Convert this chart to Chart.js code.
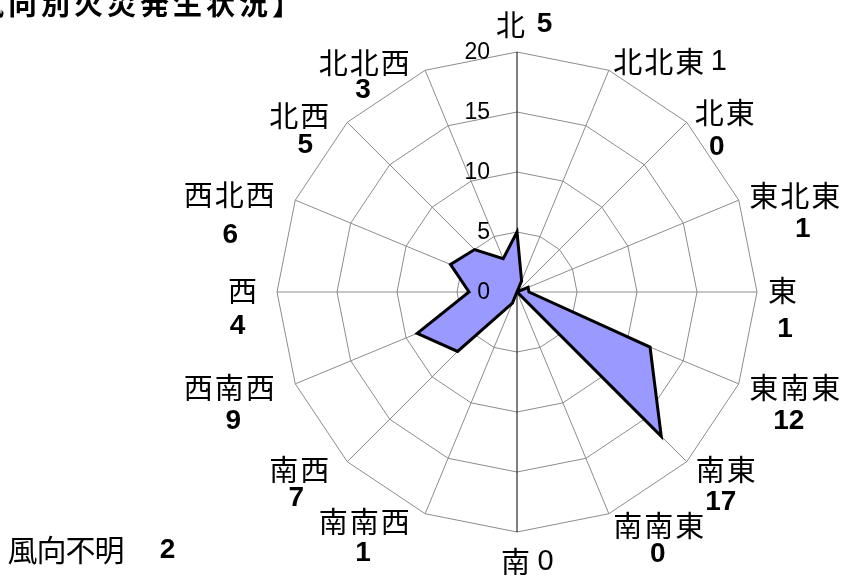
<!DOCTYPE html>
<html>
<head>
<meta charset="utf-8">
<script src="https://cdn.jsdelivr.net/npm/chart.js@4.4.1/dist/chart.umd.min.js"></script>
<style>
  html, body { margin: 0; padding: 0; background: #fff; }
  #wrap { position: relative; width: 844px; height: 581px; overflow: hidden; }
  canvas { display: block; }
</style>
</head>
<body>
<div id="wrap"><canvas id="c" width="844" height="581"></canvas></div>
<script>
// ---- data ----
const titleText = '【風向別火災発生状況】';
const directions = ['北','北北東','北東','東北東','東','東南東','南東','南南東','南','南南西','南西','西南西','西','西北西','北西','北北西'];
const fireCounts = [5, 1, 0, 1, 1, 12, 17, 0, 0, 1, 7, 9, 4, 6, 5, 3];
const tickValues = [0, 5, 10, 15, 20];
const unknownLabel = '風向不明';
const unknownCount = 2;

// ---- label layout (offsets from each outer vertex): [kanjiDx, kanjiDy, digitDx, digitDy, digitBold] ----
const labelLayout = [
  [-6.5, -27.5, 27.5, -27.5, true],
  [50, -8.3, 110, -8.3, false],
  [38, -9, 30, 24.5, true],
  [56, -4, 64, 29, true],
  [25.5, -1, 28, 37.5, true],
  [56, 4, 50, 37, true],
  [39, 8, 34, 41, true],
  [50, 12, 49, 41, true],
  [-1.5, 30, 28.5, 30, false],
  [-61, 8, -62, 40, true],
  [-48, 8, -51, 37, true],
  [-66, 4, -62, 37, true],
  [-34.5, -1, -39.5, 34.5, true],
  [-66, -5, -65, 35, true],
  [-48, -6, -42, 23, true],
  [-61, -7, -62, 20, true]
];

const CJK = '"Noto Sans CJK JP", "Noto Sans CJK SC", sans-serif';
const LAT = '"Liberation Sans", Arial, sans-serif';

function drawKanji(c, text, cx, cy, size, pitch, weight) {
  c.font = (weight || 'normal') + ' ' + size + 'px ' + CJK;
  c.textAlign = 'center';
  c.textBaseline = 'middle';
  const chars = Array.from(text);
  const n = chars.length;
  chars.forEach((ch, i) => {
    c.fillText(ch, cx + (i - (n - 1) / 2) * pitch, cy);
  });
}
function drawDigits(c, text, cx, cy, size, bold) {
  c.font = (bold ? 'bold ' : 'normal ') + size + 'px ' + LAT;
  c.textAlign = 'center';
  c.textBaseline = 'middle';
  c.fillText(text, cx, cy);
}

const textPlugin = {
  id: 'texts',
  afterDraw(chart) {
    const c = chart.ctx;
    const s = chart.scales.r;
    c.save();
    c.fillStyle = '#000';
    // tick labels, left of the vertical axis
    c.font = 'normal 23px ' + LAT;
    c.textAlign = 'right';
    c.textBaseline = 'middle';
    tickValues.forEach(v => {
      const p = s.getPointPositionForValue(0, v);
      c.fillText(String(v), s.xCenter - 27, p.y + 1);
    });
    // direction labels
    directions.forEach((name, i) => {
      const p = s.getPointPosition(i, s.drawingArea);
      const L = labelLayout[i];
      drawKanji(c, name, p.x + L[0], p.y + L[1], 29, 31, 'normal');
      drawDigits(c, String(fireCounts[i]), p.x + L[2], p.y + L[3], L[4] ? 28 : 29, L[4]);
    });
    // title (partly cut at top-left, as in the reference)
    const tChars = Array.from(titleText).length;
    drawKanji(c, titleText, -43.5 + (tChars - 1) / 2 * 33, 4, 29, 33, 'bold');
    // unknown-direction note
    drawKanji(c, unknownLabel, 66, 549.5, 30, 29, 'normal');
    drawDigits(c, String(unknownCount), 167.5, 550, 28, true);
    c.restore();
  }
};

new Chart(document.getElementById('c'), {
  type: 'radar',
  data: {
    labels: directions,
    datasets: [{
      data: fireCounts,
      backgroundColor: '#9999FF',
      borderColor: '#000000',
      borderWidth: 3,
      pointRadius: 0,
      pointHoverRadius: 0,
      tension: 0,
      fill: 'origin'
    }]
  },
  options: {
    responsive: false,
    animation: false,
    devicePixelRatio: 1,
    layout: { padding: { left: 277, right: 87, top: 52, bottom: 49 } },
    plugins: { legend: { display: false }, tooltip: { enabled: false }, title: { display: false } },
    scales: {
      r: {
        min: 0,
        max: 20,
        startAngle: 0,
        ticks: { stepSize: 5, display: false },
        pointLabels: { display: false },
        grid: { color: '#8c8c8c', lineWidth: 1, circular: false },
        angleLines: {
          color: ctx => (ctx.index % 8 === 0 ? '#000000' : '#8c8c8c'),
          lineWidth: 1
        }
      }
    }
  },
  plugins: [textPlugin]
});
</script>
</body>
</html>
